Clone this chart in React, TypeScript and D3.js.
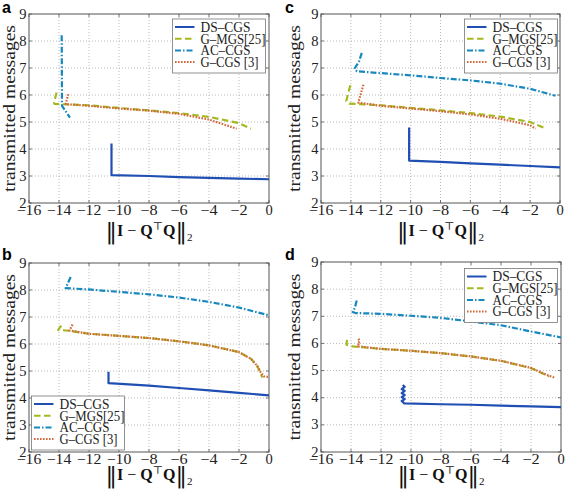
import React from 'react';
import * as d3 from 'd3';

type Pt = [number, number];

const xTicks = [-16, -14, -12, -10, -8, -6, -4, -2, 0];
const yTicks = [2, 3, 4, 5, 6, 7, 8, 9];
const seriesNames = ['DS–CGS', 'G–MGS[25]', 'AC–CGS', 'G–CGS [3]'];
const seriesColors = ['#1f4fb2', '#a6b81f', '#1788be', '#d2683c'];
const seriesDash = ['none', '6.5,3.5', '6,2,1.5,2', '1.6,1.4'];
const legendTextLen = [50, 65, 50, 58];

// panel a
const a_DS: Pt[] = [[-10.5, 4.2], [-10.5, 3.03], [-8, 3.0], [-6, 2.96], [-4, 2.93], [-2, 2.9], [0, 2.88]];
const a_GM: Pt[] = [[-14.16, 6.09], [-14.33, 5.72], [-14.3, 5.67], [-12, 5.62], [-10, 5.52], [-8, 5.43], [-6, 5.33], [-4, 5.19], [-2, 4.96], [-1.2, 4.75]];
const a_AC: Pt[] = [[-13.82, 8.21], [-13.8, 5.6], [-13.27, 5.16]];
const a_GC: Pt[] = [[-13.38, 6.03], [-13.56, 5.66], [-12, 5.6], [-10, 5.5], [-8, 5.42], [-6, 5.3], [-4, 5.09], [-2.16, 4.75]];

// panel c
const c_DS: Pt[] = [[-10.1, 4.8], [-10.1, 3.57], [-8, 3.52], [-6, 3.47], [-4, 3.42], [-2, 3.37], [0, 3.32]];
const c_GM: Pt[] = [[-14.04, 6.36], [-14.31, 5.78], [-14.1, 5.68], [-12, 5.62], [-10, 5.52], [-8, 5.43], [-6, 5.33], [-4, 5.2], [-2, 5.0], [-0.93, 4.75]];
const c_AC: Pt[] = [[-13.27, 7.56], [-13.45, 7.25], [-13.75, 6.98], [-13.6, 6.88], [-12, 6.81], [-10, 6.73], [-8, 6.63], [-6, 6.54], [-4, 6.42], [-2, 6.23], [-0.3, 5.97]];
const c_GC: Pt[] = [[-13.16, 6.38], [-13.5, 5.72], [-12, 5.6], [-10, 5.5], [-8, 5.4], [-6, 5.28], [-4, 5.12], [-2, 4.88], [-1.64, 4.75]];

// panel b
const b_DS: Pt[] = [[-10.7, 4.97], [-10.7, 4.55], [-8, 4.46], [-6, 4.37], [-4, 4.28], [-2, 4.19], [0, 4.1]];
const b_GM: Pt[] = [[-13.85, 6.68], [-14.05, 6.52], [-13.5, 6.5], [-12, 6.38], [-10, 6.3], [-8, 6.22], [-6, 6.1], [-4, 5.95], [-2, 5.7], [-1.2, 5.45], [-0.8, 5.2], [-0.6, 4.97], [-0.45, 4.76]];
const b_AC: Pt[] = [[-13.22, 8.48], [-13.56, 8.07], [-12, 8.02], [-10, 7.93], [-8, 7.84], [-6, 7.72], [-4, 7.56], [-2, 7.35], [0, 7.06]];
const b_GC: Pt[] = [[-13.1, 6.72], [-13.3, 6.5], [-12, 6.38], [-10, 6.3], [-8, 6.22], [-6, 6.1], [-4, 5.95], [-2, 5.7], [-1.2, 5.45], [-0.8, 5.2], [-0.55, 4.95], [-0.35, 4.8], [0, 4.78]];

// panel d
const d_DS: Pt[] = [[-10.55, 4.47], [-10.42, 4.4], [-10.62, 4.32], [-10.42, 4.25], [-10.62, 4.17], [-10.42, 4.1], [-10.62, 4.02], [-10.42, 3.95], [-10.62, 3.88], [-10.5, 3.82], [-10.45, 3.79], [-8, 3.76], [-6, 3.74], [-4, 3.71], [-2, 3.68], [0, 3.65]];
const d_GM: Pt[] = [[-14.27, 6.13], [-14.3, 5.95], [-13.89, 5.89], [-12, 5.8], [-10, 5.73], [-8, 5.64], [-6, 5.52], [-4, 5.36], [-2, 5.09], [-0.78, 4.78]];
const d_AC: Pt[] = [[-13.62, 7.58], [-13.75, 7.3], [-13.89, 7.16], [-13.7, 7.12], [-12, 7.09], [-10, 7.02], [-8, 6.94], [-6, 6.81], [-4, 6.67], [-2, 6.44], [0, 6.22]];
const d_GC: Pt[] = [[-13.5, 6.17], [-13.42, 6.08], [-13.55, 6.0], [-13.45, 5.93], [-13.5, 5.89], [-12, 5.8], [-10, 5.73], [-8, 5.64], [-6, 5.52], [-4, 5.36], [-2, 5.1], [-1, 4.85], [-0.44, 4.74]];

interface PanelDef {
  id: string;
  left: number; right: number; top: number; bottom: number;
  letterX: number; letterY: number;
  ylabelX: number;
  xlabelOff: number;
  legendX: number; legendY: number;
  series: Pt[][];
}

const panels: PanelDef[] = [
  { id: 'a', left: 29, right: 269, top: 14, bottom: 203, letterX: 2, letterY: 13, ylabelX: 14.5, xlabelOff: 33, legendX: 172.5, legendY: 19, series: [a_DS, a_GM, a_AC, a_GC] },
  { id: 'c', left: 321, right: 560, top: 14, bottom: 203, letterX: 285, letterY: 13, ylabelX: 300, xlabelOff: 33, legendX: 464.5, legendY: 19, series: [c_DS, c_GM, c_AC, c_GC] },
  { id: 'b', left: 29, right: 269, top: 263, bottom: 452, letterX: 2, letterY: 260, ylabelX: 14.5, xlabelOff: 28, legendX: 31.5, legendY: 396, series: [b_DS, b_GM, b_AC, b_GC] },
  { id: 'd', left: 321, right: 561, top: 262, bottom: 452, letterX: 285, letterY: 260, ylabelX: 300, xlabelOff: 28, legendX: 464.5, legendY: 268.5, series: [d_DS, d_GM, d_AC, d_GC] },
];

const SERIF = '"Liberation Serif", "DejaVu Serif", serif';
const fmt = (v: number) => (v < 0 ? '\u2212' + Math.abs(v) : String(v));
const tickLen = (v: number) => (v < 0 ? 10 + 7.3 * String(Math.abs(v)).length : undefined);

function Panel({ p }: { p: PanelDef }) {
  const xs = d3.scaleLinear().domain([-16, 0]).range([p.left, p.right]);
  const ys = d3.scaleLinear().domain([2, 9]).range([p.bottom, p.top]);
  const line = d3.line<Pt>().x(d => xs(d[0])).y(d => ys(d[1]));
  const cx = (p.left + p.right) / 2;
  const cy = (p.top + p.bottom) / 2;
  const lw = 93;
  const lh = 54;
  return (
    <g>
      <text x={p.letterX} y={p.letterY} fontFamily='"Liberation Sans", Arial, sans-serif' fontWeight="bold" fontSize={16} fill="#000">{p.id}</text>
      <rect x={p.left} y={p.top} width={p.right - p.left} height={p.bottom - p.top} fill="#fff" />
      {xTicks.slice(1, -1).map(t => (
        <line key={'gx' + t} x1={xs(t)} x2={xs(t)} y1={p.top} y2={p.bottom} stroke="#a8a8a8" strokeWidth={0.8} strokeDasharray="1,2" />
      ))}
      {yTicks.slice(1, -1).map(t => (
        <line key={'gy' + t} x1={p.left} x2={p.right} y1={ys(t)} y2={ys(t)} stroke="#a8a8a8" strokeWidth={0.8} strokeDasharray="1,2" />
      ))}
      {xTicks.map(t => (
        <g key={'tx' + t}>
          <line x1={xs(t)} x2={xs(t)} y1={p.bottom} y2={p.bottom - 3} stroke="#555" strokeWidth={0.8} />
          <line x1={xs(t)} x2={xs(t)} y1={p.top} y2={p.top + 3} stroke="#555" strokeWidth={0.8} />
          <text x={xs(t)} y={p.bottom + 12} textAnchor="middle" fontFamily={SERIF} fontSize={14.5} fill="#222"
            textLength={tickLen(t)} lengthAdjust="spacingAndGlyphs">{fmt(t)}</text>
        </g>
      ))}
      {yTicks.map(t => (
        <g key={'ty' + t}>
          <line x1={p.left} x2={p.left + 3} y1={ys(t)} y2={ys(t)} stroke="#555" strokeWidth={0.8} />
          <line x1={p.right} x2={p.right - 3} y1={ys(t)} y2={ys(t)} stroke="#555" strokeWidth={0.8} />
          <text x={p.left - 2.5} y={ys(t) + 4.5} textAnchor="end" fontFamily={SERIF} fontSize={14.5} fill="#222">{t}</text>
        </g>
      ))}
      <rect x={p.left} y={p.top} width={p.right - p.left} height={p.bottom - p.top} fill="none" stroke="#555" strokeWidth={1} />
      {p.series.map((s, i) => (
        <path key={'s' + i} d={line(s) || ''} fill="none" stroke={seriesColors[i]} strokeWidth={2.2}
          strokeDasharray={seriesDash[i]} strokeLinejoin="round" />
      ))}
      <g>
        <rect x={p.legendX} y={p.legendY} width={lw} height={lh} fill="#fff" stroke="#777" strokeWidth={0.8} />
        {seriesNames.map((n, i) => {
          const ry = p.legendY + 8 + i * 11.7;
          return (
            <g key={'l' + i}>
              <line x1={p.legendX + 2.5} x2={p.legendX + 22} y1={ry} y2={ry} stroke={seriesColors[i]} strokeWidth={2} strokeDasharray={seriesDash[i]} />
              <text x={p.legendX + 28} y={ry + 4.8} fontFamily={SERIF} fontSize={14} fill="#222"
                textLength={legendTextLen[i]} lengthAdjust="spacingAndGlyphs">{n}</text>
            </g>
          );
        })}
      </g>
      <text transform={`translate(${p.ylabelX},${cy}) rotate(-90)`} textAnchor="middle" fontFamily={SERIF} fontSize={16} fill="#222"
        textLength={167} lengthAdjust="spacingAndGlyphs">transmitted messages</text>
      <text x={cx} y={p.bottom + p.xlabelOff} textAnchor="middle" fontFamily={SERIF} fontSize={16} fill="#111">
        <tspan fontSize={23} fontFamily='"DejaVu Serif", serif' dy={2.5}>‖</tspan>
        <tspan fontWeight="bold" dy={-2.5}>I</tspan>
        <tspan> − </tspan>
        <tspan fontWeight="bold">Q</tspan>
        <tspan fontSize={11} dy={-6}>⊤</tspan>
        <tspan fontWeight="bold" dy={6}>Q</tspan>
        <tspan fontSize={23} fontFamily='"DejaVu Serif", serif' dy={2.5}>‖</tspan>
        <tspan fontSize={11} dy={2}>2</tspan>
      </text>
    </g>
  );
}

export default function App() {
  return (
    <div style={{ position: 'absolute', left: 0, top: 0 }}>
      <svg width={566} height={491} viewBox="0 0 566 491" style={{ display: 'block', background: '#fff' }}>
        <rect x={0} y={0} width={566} height={491} fill="#fff" />
        {panels.map(p => <Panel key={p.id} p={p} />)}
      </svg>
    </div>
  );
}
